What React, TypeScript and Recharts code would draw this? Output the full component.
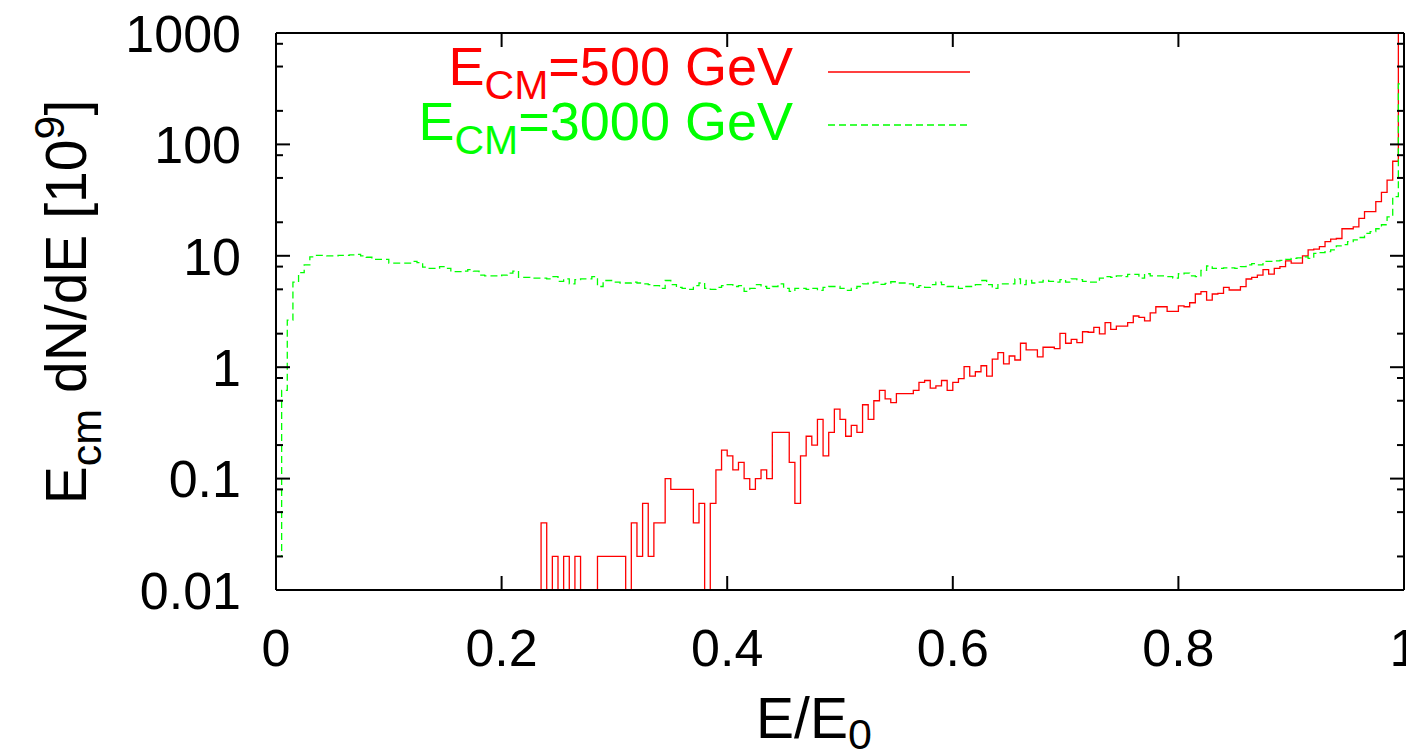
import { LineChart, Line, XAxis, YAxis, Legend } from 'recharts';

// histogram of E/E0, 200 bins of width 0.005 (0 = empty bin)
const BIN_WIDTH = 0.005;

// E_CM = 500 GeV
const RED_BINS = [
  0, 0, 0, 0, 0, 0, 0, 0, 0, 0,
  0, 0, 0, 0, 0, 0, 0, 0, 0, 0,
  0, 0, 0, 0, 0, 0, 0, 0, 0, 0,
  0, 0, 0, 0, 0, 0, 0, 0, 0, 0,
  0, 0, 0, 0, 0, 0, 0, 0.04, 0, 0.02,
  0, 0.02, 0, 0.02, 0, 0, 0, 0.02, 0.02, 0.02,
  0.02, 0.02, 0, 0.04, 0.02, 0.06, 0.02, 0.04, 0.04, 0.1,
  0.08, 0.08, 0.08, 0.08, 0.04, 0.06, 0, 0.06, 0.12, 0.18,
  0.16, 0.12, 0.14, 0.1, 0.08, 0.1, 0.12, 0.1, 0.26, 0.26,
  0.26, 0.14, 0.06, 0.16, 0.24, 0.2, 0.34, 0.16, 0.26, 0.42,
  0.34, 0.24, 0.3, 0.26, 0.46, 0.34, 0.5, 0.62, 0.52, 0.48,
  0.58, 0.58, 0.58, 0.62, 0.73, 0.76, 0.65, 0.68, 0.76, 0.62,
  0.73, 0.79, 1.01, 0.83, 0.91, 1.03, 0.83, 1.18, 1.35, 1.07,
  1.26, 1.16, 1.64, 1.43, 1.43, 1.24, 1.51, 1.51, 1.47, 2.01,
  1.64, 1.78, 1.66, 2.08, 2.06, 2.28, 1.99, 2.51, 2.19, 2.34,
  2.34, 2.51, 2.88, 2.8, 2.61, 3.08, 3.49, 3.49, 3.17, 3.17,
  3.55, 3.49, 3.79, 4.54, 4.77, 4.0, 4.54, 4.6, 5.21, 4.93,
  4.93, 5.28, 6.19, 6.4, 6.7, 7.5, 6.86, 7.7, 8.0, 9.0,
  8.6, 8.6, 9.97, 11.3, 11.5, 12.1, 13.4, 14.1, 14.3, 17.5,
  17.5, 18.2, 21.7, 24.9, 24.9, 30.6, 37.1, 47.8, 70.6, 1200,
];

// E_CM = 3000 GeV
const GREEN_BINS = [
  0.02, 0.62, 2.65, 5.8, 7.06, 8.3, 9.8, 10.1, 10.1, 10.0,
  10.0, 10.1, 10.1, 10.2, 10.3, 10.0, 9.7, 9.3, 9.3, 9.3,
  8.6, 8.6, 8.6, 8.6, 8.9, 8.7, 7.9, 7.7, 7.7, 8.0,
  7.7, 7.2, 7.2, 7.3, 7.5, 7.3, 6.7, 6.6, 6.6, 6.6,
  6.7, 7.0, 7.3, 6.4, 6.4, 6.3, 6.3, 6.3, 6.2, 6.5,
  5.9, 6.2, 5.6, 6.1, 6.2, 6.2, 6.5, 5.3, 6.0, 6.0,
  5.8, 5.7, 5.7, 5.8, 5.7, 5.6, 5.5, 5.4, 5.1, 6.0,
  5.5, 5.2, 5.1, 5.0, 5.4, 5.7, 5.1, 5.0, 5.2, 5.4,
  5.5, 5.3, 5.4, 4.8, 5.1, 5.5, 5.3, 5.1, 5.3, 5.6,
  5.1, 4.8, 5.1, 5.1, 5.0, 5.1, 4.9, 5.2, 5.3, 5.3,
  5.1, 4.9, 5.1, 5.3, 5.6, 5.7, 5.8, 5.55, 5.66, 5.85,
  5.7, 5.7, 5.6, 5.2, 5.4, 5.2, 5.5, 5.8, 5.5, 5.3,
  5.3, 5.1, 5.3, 5.3, 5.5, 6.0, 5.5, 5.1, 5.6, 5.6,
  5.6, 6.2, 5.5, 6.0, 5.7, 5.8, 6.0, 5.9, 5.8, 6.1,
  5.8, 6.2, 6.1, 5.9, 5.8, 5.8, 6.3, 6.5, 6.4, 6.6,
  6.5, 6.8, 6.8, 6.3, 6.9, 6.6, 6.6, 6.6, 6.5, 6.3,
  6.9, 7.0, 6.6, 6.5, 7.4, 8.1, 7.7, 7.7, 7.8, 7.8,
  7.7, 8.0, 8.3, 8.5, 8.3, 8.9, 8.9, 9.0, 9.1, 9.3,
  9.5, 9.6, 9.8, 9.5, 10.5, 10.7, 10.9, 11.3, 12.3, 12.6,
  13.4, 13.9, 14.6, 15.9, 16.5, 17.5, 19.0, 22.4, 34, 350,
];

const X_TICKS = [0, 0.2, 0.4, 0.6, 0.8, 1];
const Y_MAJOR = [0.01, 0.1, 1, 10, 100, 1000];
const Y_MINOR_FACTORS = [2, 5, 8];

const SERIES = [
  { key: 'red', name: 'E_CM=500 GeV', sub: 'CM', tail: '=500 GeV', color: '#ff0000', dash: undefined },
  { key: 'green', name: 'E_CM=3000 GeV', sub: 'CM', tail: '=3000 GeV', color: '#00ff00', dash: '7 4' },
];

const W = 1406;
const H = 756;
const PLOT_LEFT = 276;
const PLOT_RIGHT = 1404;
const PLOT_TOP = 33;
const PLOT_BOTTOM = 590;
const FONT = '"Liberation Sans", Arial, Helvetica, sans-serif';
const FS = 52;
const MAJOR_LEN = 14;
const MINOR_LEN = 7;

// empty bins sit below the log axis floor so the step drops out of the frame
const FLOOR = 1e-4;
const plotVal = (v: number) => (v > 0 ? v : FLOOR);

const data = RED_BINS.map((r, i) => ({
  x: +(i * BIN_WIDTH).toFixed(3),
  red: plotVal(r),
  green: plotVal(GREEN_BINS[i]),
}));
data.push({
  x: 1,
  red: plotVal(RED_BINS[RED_BINS.length - 1]),
  green: plotVal(GREEN_BINS[GREEN_BINS.length - 1]),
});

const yTicks: number[] = [];
Y_MAJOR.forEach((d, i) => {
  yTicks.push(d);
  if (i < Y_MAJOR.length - 1) Y_MINOR_FACTORS.forEach((f) => yTicks.push(+(d * f).toPrecision(3)));
});
const isMajor = (v: number) => Y_MAJOR.includes(v);

// eslint-disable-next-line @typescript-eslint/no-explicit-any
const BottomTick = ({ x, payload }: any) => (
  <g>
    <line x1={x} x2={x} y1={PLOT_BOTTOM} y2={PLOT_BOTTOM - MAJOR_LEN} stroke="#000" strokeWidth={2} />
    <text x={x} y={666} textAnchor="middle" fontFamily={FONT} fontSize={FS} fill="#000">
      {String(payload.value)}
    </text>
  </g>
);

// eslint-disable-next-line @typescript-eslint/no-explicit-any
const TopTick = ({ x }: any) => (
  <line x1={x} x2={x} y1={PLOT_TOP} y2={PLOT_TOP + MAJOR_LEN} stroke="#000" strokeWidth={2} />
);

// eslint-disable-next-line @typescript-eslint/no-explicit-any
const LeftTick = ({ y, payload }: any) => {
  const major = isMajor(payload.value);
  return (
    <g>
      <line x1={PLOT_LEFT} x2={PLOT_LEFT + (major ? MAJOR_LEN : MINOR_LEN)} y1={y} y2={y} stroke="#000" strokeWidth={2} />
      {major && (
        <text x={241} y={y} dy="0.36em" textAnchor="end" fontFamily={FONT} fontSize={FS} fill="#000">
          {String(payload.value)}
        </text>
      )}
    </g>
  );
};

// eslint-disable-next-line @typescript-eslint/no-explicit-any
const RightTick = ({ y, payload }: any) => {
  const major = isMajor(payload.value);
  return (
    <line x1={PLOT_RIGHT} x2={PLOT_RIGHT - (major ? MAJOR_LEN : MINOR_LEN)} y1={y} y2={y} stroke="#000" strokeWidth={2} />
  );
};

const YTitle = () => (
  <text
    x={86}
    y={302}
    transform="rotate(-90 86 302)"
    textAnchor="middle"
    fontFamily={FONT}
    fontSize={57}
    fill="#000"
  >
    E<tspan dy={15} fontSize={43}>cm</tspan>
    <tspan dy={-15}> dN/dE [10</tspan>
    <tspan dy={-22} fontSize={43}>9</tspan>
    <tspan dy={22}>]</tspan>
  </text>
);

const XTitle = () => (
  <text x={814} y={738} textAnchor="middle" fontFamily={FONT} fontSize={57} fill="#000">
    E/E<tspan dy={11} fontSize={43}>0</tspan>
  </text>
);

const KeyBox = () => (
  <svg width={W} height={170} style={{ display: 'block' }}>
    {SERIES.map((s, i) => {
      const lineY = 72 + i * 53;
      return (
        <g key={s.key}>
          <text x={793} y={85 + i * 55} textAnchor="end" fontFamily={FONT} fontSize={54} fill={s.color}>
            E<tspan dy={14} fontSize={41}>{s.sub}</tspan>
            <tspan dy={-14}>{s.tail}</tspan>
          </text>
          <line x1={828} x2={970} y1={lineY} y2={lineY} stroke={s.color} strokeWidth={1.3} strokeDasharray={s.dash} />
        </g>
      );
    })}
  </svg>
);

export default function App() {
  return (
    <div style={{ position: 'absolute', left: 0, top: 0, width: W, height: H, background: '#fff' }}>
      <LineChart width={W} height={H} data={data} margin={{ top: 0, right: 0, bottom: 0, left: 0 }}>
        <XAxis
          xAxisId="b"
          dataKey="x"
          type="number"
          domain={[0, 1]}
          ticks={X_TICKS}
          interval={0}
          height={H - PLOT_BOTTOM}
          tickSize={0}
          tickMargin={0}
          tickLine={false}
          tick={BottomTick}
          axisLine={{ stroke: '#000', strokeWidth: 2 }}
          label={<XTitle />}
        />
        <XAxis
          xAxisId="t"
          orientation="top"
          dataKey="x"
          type="number"
          domain={[0, 1]}
          ticks={X_TICKS}
          interval={0}
          height={PLOT_TOP}
          tickSize={0}
          tickMargin={0}
          tickLine={false}
          tick={TopTick}
          axisLine={{ stroke: '#000', strokeWidth: 2 }}
        />
        <YAxis
          yAxisId="l"
          type="number"
          scale="log"
          domain={[0.01, 1000]}
          allowDataOverflow
          ticks={yTicks}
          interval={0}
          width={PLOT_LEFT}
          tickSize={0}
          tickMargin={0}
          tickLine={false}
          tick={LeftTick}
          axisLine={{ stroke: '#000', strokeWidth: 2 }}
          label={<YTitle />}
        />
        <YAxis
          yAxisId="r"
          orientation="right"
          type="number"
          scale="log"
          domain={[0.01, 1000]}
          allowDataOverflow
          ticks={yTicks}
          interval={0}
          width={W - PLOT_RIGHT}
          tickSize={0}
          tickMargin={0}
          tickLine={false}
          tick={RightTick}
          axisLine={{ stroke: '#000', strokeWidth: 2 }}
        />
        <Legend
          layout="horizontal"
          verticalAlign="middle"
          align="center"
          content={() => <KeyBox />}
          wrapperStyle={{ position: 'absolute', left: 0, top: 0, width: W, height: 170 }}
        />
        {SERIES.map((s) => (
          <Line
            key={s.key}
            xAxisId="b"
            yAxisId="l"
            type="stepAfter"
            dataKey={s.key}
            name={s.name}
            stroke={s.color}
            strokeWidth={1.3}
            strokeDasharray={s.dash}
            dot={false}
            activeDot={false}
            isAnimationActive={false}
          />
        ))}
      </LineChart>
    </div>
  );
}
